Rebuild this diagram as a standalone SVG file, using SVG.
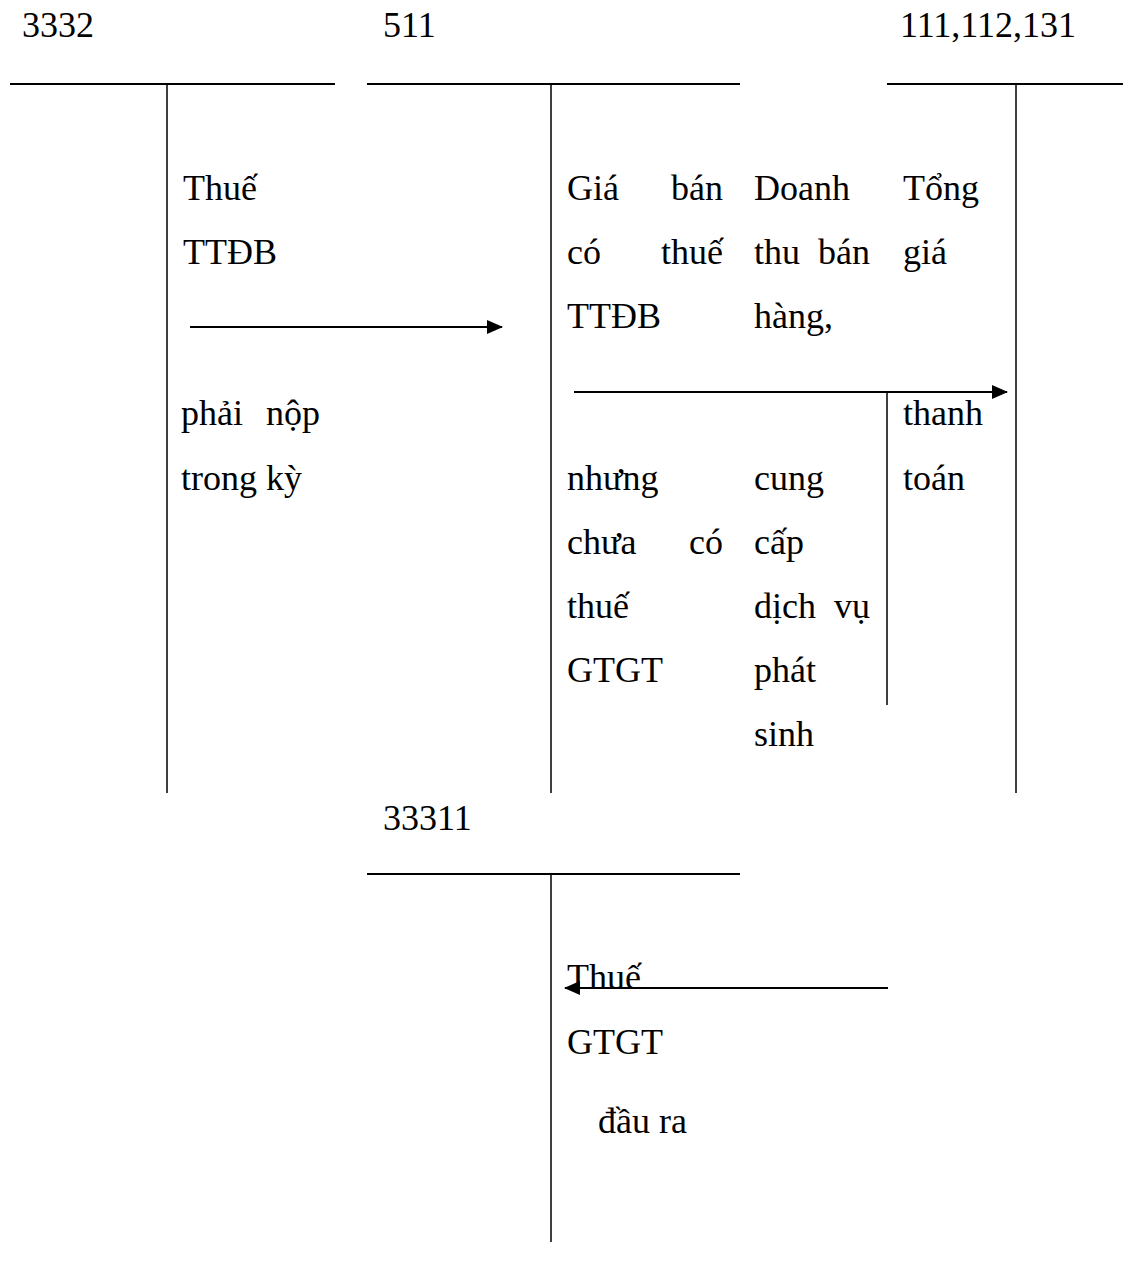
<svg xmlns="http://www.w3.org/2000/svg" width="1123" height="1270" viewBox="0 0 1123 1270">
<style>
text{font-family:"Liberation Serif","Times New Roman",serif;font-size:36px;fill:#000}
.h{stroke:#000;stroke-width:2;fill:none}
.v{stroke:#000;stroke-width:1.5;fill:none}
.a{stroke:#000;stroke-width:2;fill:none}
</style>
<defs>
<marker id="ah" viewBox="0 0 16 14" refX="15" refY="7" markerWidth="16" markerHeight="14" markerUnits="userSpaceOnUse" orient="auto">
<path d="M0,0 L16,7 L0,14 Z" fill="#000"/>
</marker>
</defs>
<rect width="1123" height="1270" fill="#fff"/>
<g id="acc3332">
<text x="22" y="37">3332</text>
<line class="h" x1="10" y1="84" x2="335" y2="84"/>
<line class="v" x1="167" y1="84" x2="167" y2="793"/>
<text x="183" y="200">Thuế</text>
<text x="183" y="264">TTĐB</text>
<text x="181" y="425">phải</text><text x="320" y="425" text-anchor="end">nộp</text>
<text x="181" y="490">trong kỳ</text>
</g>
<g id="acc511">
<text x="383" y="37">511</text>
<line class="h" x1="367" y1="84" x2="740" y2="84"/>
<line class="v" x1="551" y1="84" x2="551" y2="793"/>
<text x="567" y="200">Giá</text><text x="723" y="200" text-anchor="end">bán</text>
<text x="567" y="264">có</text><text x="723" y="264" text-anchor="end">thuế</text>
<text x="567" y="328">TTĐB</text>
<text x="567" y="490">nhưng</text>
<text x="567" y="554">chưa</text><text x="723" y="554" text-anchor="end">có</text>
<text x="567" y="618">thuế</text>
<text x="567" y="682">GTGT</text>
<text x="754" y="200">Doanh</text>
<text x="754" y="264">thu</text><text x="870" y="264" text-anchor="end">bán</text>
<text x="754" y="328">hàng,</text>
<text x="754" y="490">cung</text>
<text x="754" y="554">cấp</text>
<text x="754" y="618">dịch</text><text x="870" y="618" text-anchor="end">vụ</text>
<text x="754" y="682">phát</text>
<text x="754" y="746">sinh</text>
<line class="v" x1="887" y1="393" x2="887" y2="705"/>
<text x="903" y="200">Tổng</text>
<text x="903" y="264">giá</text>
<text x="903" y="425">thanh</text>
<text x="903" y="490">toán</text>
</g>
<g id="acc111">
<text x="900" y="37">111,112,131</text>
<line class="h" x1="887" y1="84" x2="1123" y2="84"/>
<line class="v" x1="1016" y1="84" x2="1016" y2="793"/>
</g>
<g id="acc33311">
<text x="383" y="830">33311</text>
<line class="h" x1="367" y1="874" x2="740" y2="874"/>
<line class="v" x1="551" y1="874" x2="551" y2="1242"/>
<text x="567" y="989">Thuế</text>
<text x="567" y="1054">GTGT</text>
<text x="598" y="1133">đầu ra</text>
</g>
<g id="connectors">
<line class="a" x1="190" y1="327" x2="502" y2="327" marker-end="url(#ah)"/>
<line class="a" x1="574" y1="392" x2="1007" y2="392" marker-end="url(#ah)"/>
<line class="a" x1="888" y1="988" x2="565" y2="988" marker-end="url(#ah)"/>
</g>
</svg>
